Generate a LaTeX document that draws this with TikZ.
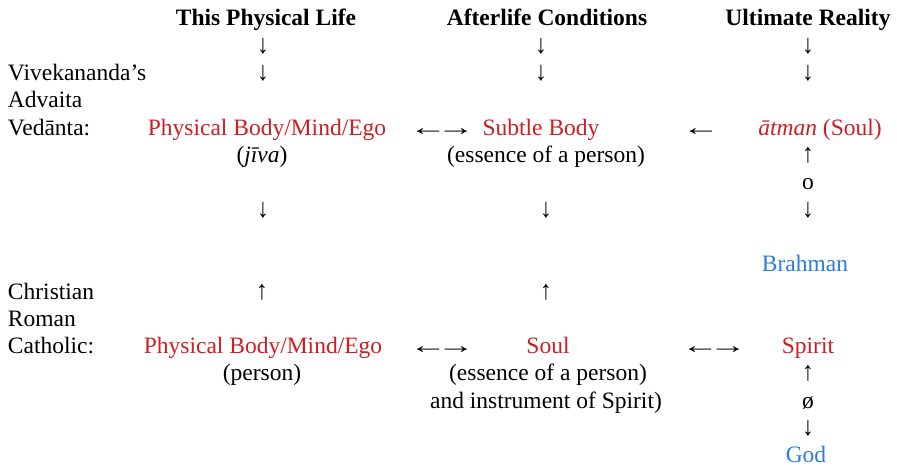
\documentclass[tikz,border=0pt]{standalone}
\usepackage{graphicx}
\usepackage{fontspec}
\setmainfont{Liberation Serif}
\definecolor{tred}{RGB}{205,30,35}
\definecolor{tblue}{RGB}{45,125,220}
\newcommand\hlarr{\scalebox{1.6}[1]{←}}
\newcommand\hrarr{\scalebox{1.6}[1]{→}}
\newcommand\hlrarr{\hlarr\kern-10pt\hrarr}
\newcommand\vdarr{\scalebox{1}[1.15]{↓}}
\newcommand\vuarr{\scalebox{1}[1.15]{↑}}
\begin{document}
\begin{tikzpicture}[x=1pt,y=1pt,
  every node/.style={inner sep=0pt,outer sep=0pt,font=\fontsize{23.5}{27.3}\selectfont},
  t/.style={anchor=base},
  lbl/.style={anchor=base west},
  hdr/.style={anchor=base,font=\fontsize{23.5}{27.3}\selectfont\bfseries},
  red/.style={text=tred},
  blue/.style={text=tblue}]
\useasboundingbox (0,0) rectangle (897,-468);
% headers
\node[hdr] (h1) at (266,-26) {This Physical Life};
\node[hdr] (h2) at (547,-26) {Afterlife Conditions};
\node[hdr] (h3) at (808,-26) {Ultimate Reality};
% arrows under headers
\node[t] (a11) at (263,-53.3) {\vdarr};
\node[t] (a12) at (263,-80.6) {\vdarr};
\node[t] (a21) at (541,-53.3) {\vdarr};
\node[t] (a22) at (541,-80.6) {\vdarr};
\node[t] (a31) at (808,-53.3) {\vdarr};
\node[t] (a32) at (808,-80.6) {\vdarr};
% left labels Vedanta
\node[lbl] (v1) at (8,-80.6) {Vivekananda’s};
\node[lbl] (v2) at (8,-107.9) {Advaita};
\node[lbl] (v3) at (8,-135.2) {Vedānta:};
% Vedanta row
\node[t,red] (pb1) at (267,-135.2) {Physical Body/Mind/Ego};
\node[t] (jiva) at (262,-162.5) {(\textit{jīva})};
\node[t] (lr1) at (442,-135.2) {\hlrarr};
\node[t,red] (sb) at (541,-135.2) {Subtle Body};
\node[t] (ess1) at (546,-162.5) {(essence of a person)};
\node[t] (l1) at (701,-135.2) {\hlarr};
\node[t,red] (atman) at (820,-135.2) {\textit{ātman} (Soul)};
\node[t] (u1) at (808,-162.5) {\vuarr};
\node[t] (o1) at (808,-189.8) {o};
\node[t] (d1) at (808,-217.1) {\vdarr};
\node[t] (d11) at (263,-217.1) {\vdarr};
\node[t] (d21) at (546,-217.1) {\vdarr};
\node[t,blue] (brahman) at (805,-271.7) {Brahman};
% Catholic
\node[lbl] (c1) at (8,-299) {Christian};
\node[lbl] (c2) at (8,-326.3) {Roman};
\node[lbl] (c3) at (8,-353.6) {Catholic:};
\node[t] (u11) at (262,-299) {\vuarr};
\node[t] (u21) at (546,-299) {\vuarr};
\node[t,red] (pb2) at (263,-353.6) {Physical Body/Mind/Ego};
\node[t] (person) at (262,-380.9) {(person)};
\node[t] (lr2) at (442,-353.6) {\hlrarr};
\node[t,red] (soul) at (548,-353.6) {Soul};
\node[t] (ess2) at (548,-380.9) {(essence of a person)};
\node[t] (instr) at (546,-408.2) {and instrument of Spirit)};
\node[t] (lr3) at (714,-353.6) {\hlrarr};
\node[t,red] (spirit) at (808,-353.6) {Spirit};
\node[t] (u2) at (808,-380.9) {\vuarr};
\node[t] (o2) at (808,-408.2) {ø};
\node[t] (d2) at (808,-435.5) {\vdarr};
\node[t,blue] (god) at (806,-462.8) {God};
\end{tikzpicture}
\end{document}
